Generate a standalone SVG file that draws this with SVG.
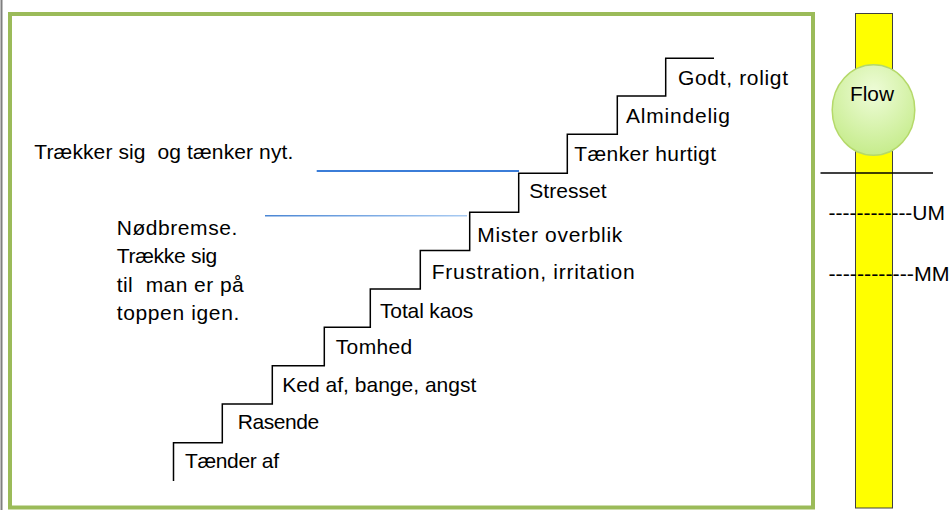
<svg xmlns="http://www.w3.org/2000/svg" width="950" height="510" viewBox="0 0 950 510">
<style>
  text { font-family: "Liberation Sans", Arial, sans-serif; font-size: 21px; fill: #000; }
  .stair { fill: none; stroke: #000; stroke-width: 1.5; }
  .frame { fill: none; stroke: #9BBB59; stroke-width: 4; }
</style>
<defs>
  <radialGradient id="flowGrad" cx="0.5" cy="0.3" r="0.7">
    <stop offset="0" stop-color="#eefcd8"/>
    <stop offset="1" stop-color="#c6ec8c"/>
  </radialGradient>
  <linearGradient id="blueFade" gradientUnits="userSpaceOnUse" x1="265" y1="0" x2="467" y2="0">
    <stop offset="0" stop-color="#4a86d4"/>
    <stop offset="1" stop-color="#a9cbf2"/>
  </linearGradient>
</defs>
<rect width="950" height="510" fill="#fff"/>
<line x1="1.5" y1="0" x2="1.5" y2="510" stroke="#7f7f7f" stroke-width="2"/>
<rect id="frame" class="frame" x="10" y="14" width="803" height="493.5"/>

<g id="flow-bar">
  <rect x="855.5" y="13.5" width="37" height="494.5" fill="#FFFF00" stroke="#404040" stroke-width="1"/>
  <ellipse cx="873.5" cy="110" rx="41.3" ry="45.3" fill="url(#flowGrad)" stroke="#b5d96a" stroke-width="1.5"/>
  <text x="850" y="101" textLength="44" lengthAdjust="spacingAndGlyphs">Flow</text>
  <line x1="820.5" y1="173" x2="933" y2="173" stroke="#000" stroke-width="1.5"/>
  <text x="828.5" y="220" textLength="116.5" lengthAdjust="spacingAndGlyphs">------------UM</text>
  <text x="828.5" y="281" textLength="121" lengthAdjust="spacingAndGlyphs">------------MM</text>
</g>

<g id="connectors">
  <path id="staircase" class="stair" d="M173.5,481 V442.7 H222.3 V404 H272.3 V365.7 H324.3 V327.3 H370.3 V289 H420.3 V250.5 H469.7 V212.3 H518.7 V173.3 H567.3 V134.3 H617.3 V96 H665.7 V58.3 H714"/>
  <line x1="316.7" y1="171" x2="519" y2="171" stroke="#3b7dd8" stroke-width="1.8"/>
  <line x1="265" y1="215.7" x2="467" y2="215.7" stroke="url(#blueFade)" stroke-width="1.4"/>
</g>

<g id="steps">
  <g id="step1"><text x="185" y="467.7" textLength="94">Tænder af</text></g>
  <g id="step2"><text x="237.7" y="429.3" textLength="81.6">Rasende</text></g>
  <g id="step3"><text x="282.3" y="391.7" textLength="194">Ked af, bange, angst</text></g>
  <g id="step4"><text x="335.7" y="354.3" textLength="76.6">Tomhed</text></g>
  <g id="step5"><text x="380" y="317.7" textLength="93.3">Total kaos</text></g>
  <g id="step6"><text x="431.7" y="279.3" textLength="203">Frustration, irritation</text></g>
  <g id="step7"><text x="477.3" y="242.3" textLength="145">Mister overblik</text></g>
  <g id="step8"><text x="529.3" y="198.3" textLength="77.4">Stresset</text></g>
  <g id="step9"><text x="574.3" y="160.7" textLength="141.7">Tænker hurtigt</text></g>
  <g id="step10"><text x="626" y="123.3" textLength="104">Almindelig</text></g>
  <g id="step11"><text x="678" y="85" textLength="110">Godt, roligt</text></g>
</g>

<g id="note-top"><text x="34.3" y="159.3" xml:space="preserve" textLength="259">Trækker sig  og tænker nyt.</text></g>
<g id="note-brake">
  <text x="116.7" y="235" textLength="120.6">Nødbremse.</text>
  <text x="116.7" y="263.3" textLength="100.6">Trække sig</text>
  <text x="116.7" y="291.7" xml:space="preserve" textLength="127">til  man er på</text>
  <text x="116.7" y="320" textLength="122.6">toppen igen.</text>
</g>
</svg>
